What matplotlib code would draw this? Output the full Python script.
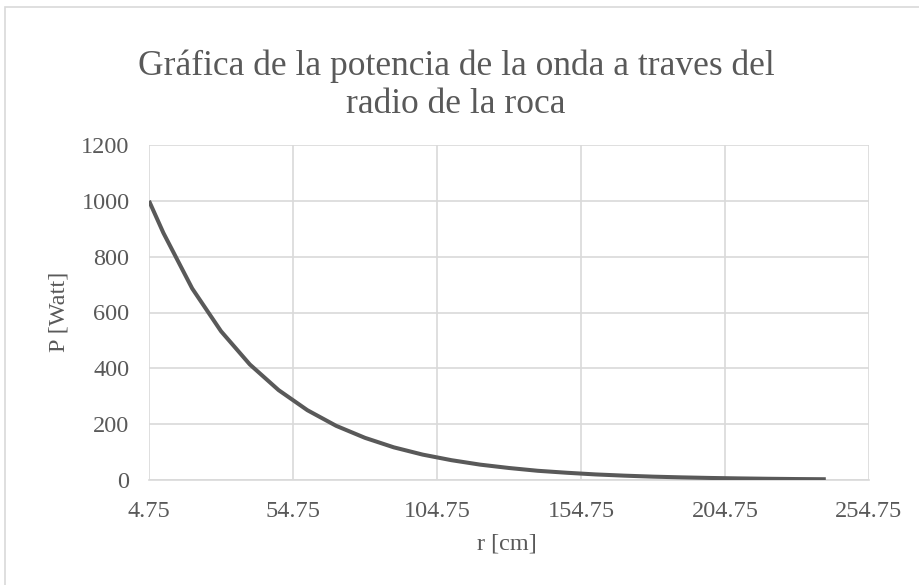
import matplotlib
matplotlib.use("Agg")
import matplotlib.pyplot as plt
from matplotlib.patches import Rectangle

plt.rcParams['font.family'] = ['Liberation Serif', 'DejaVu Serif']

title = "Gráfica de la potencia de la onda a traves del\nradio de la roca"
xlabel = "r [cm]"
ylabel = "P [Watt]"

r_cm = [4.75, 9.75, 19.75, 29.75, 39.75, 49.75, 59.75, 69.75, 79.75, 89.75,
        99.75, 109.75, 119.75, 129.75, 139.75, 149.75, 159.75, 169.75, 179.75,
        189.75, 199.75, 209.75, 219.75, 229.75, 239.75]
p_watt = [1000, 885, 686, 533, 414, 322, 250, 194, 151, 117,
          91, 71, 55, 43, 33, 26, 20, 15.6, 12, 9.4,
          7.3, 5.7, 4.4, 3.4, 2.7]

x_ticks = [4.75, 54.75, 104.75, 154.75, 204.75, 254.75]
y_ticks = [0, 200, 400, 600, 800, 1000, 1200]

W, H = 920, 585
fig = plt.figure(figsize=(W / 100, H / 100), dpi=100)
fig.patch.set_facecolor('white')

# chart border (clipped by figure on right/bottom)
fig.patches.append(Rectangle((5 / W, -0.05), 1.1, (H - 7) / H + 0.05,
                             transform=fig.transFigure, fill=False,
                             edgecolor='#d9d9d9', linewidth=1.2))

left, right, top, bottom = 149, 869, 145, 480
ax = fig.add_axes([left / W, (H - bottom) / H, (right - left) / W, (bottom - top) / H])

txt = '#595959'
grid = '#d9d9d9'

ax.plot(r_cm, p_watt, color='#595959', linewidth=2.9, solid_joinstyle='round',
        solid_capstyle='butt', zorder=3)

ax.set_xlim(x_ticks[0], x_ticks[-1])
ax.set_ylim(y_ticks[0], y_ticks[-1])
ax.set_xticks(x_ticks)
ax.set_xticklabels([f"{v:g}" for v in x_ticks])
ax.set_yticks(y_ticks)
ax.set_yticklabels([str(v) for v in y_ticks])

ax.grid(True, color=grid, linewidth=1.2)
ax.set_axisbelow(True)
for s in ['top', 'right', 'left']:
    ax.spines[s].set_visible(False)
ax.spines['bottom'].set_color(grid)
ax.spines['bottom'].set_linewidth(1.2)
ax.tick_params(axis='both', length=0, labelsize=17.5, labelcolor=txt)
ax.tick_params(axis='y', pad=14)
ax.tick_params(axis='x', pad=15)

fig.text(507 / W, 1 - 544 / H, xlabel, ha='center', va='center',
         fontsize=17.5, color=txt)
fig.text(59 / W, 1 - 312 / H, ylabel, ha='center', va='center', rotation=90,
         fontsize=17.5, color=txt)
fig.text(456 / W, 1 - 113 / H, title, ha='center', va='baseline', fontsize=25.5,
         color=txt, linespacing=1.2, multialignment='center')

fig.savefig('out.png', dpi=100)
